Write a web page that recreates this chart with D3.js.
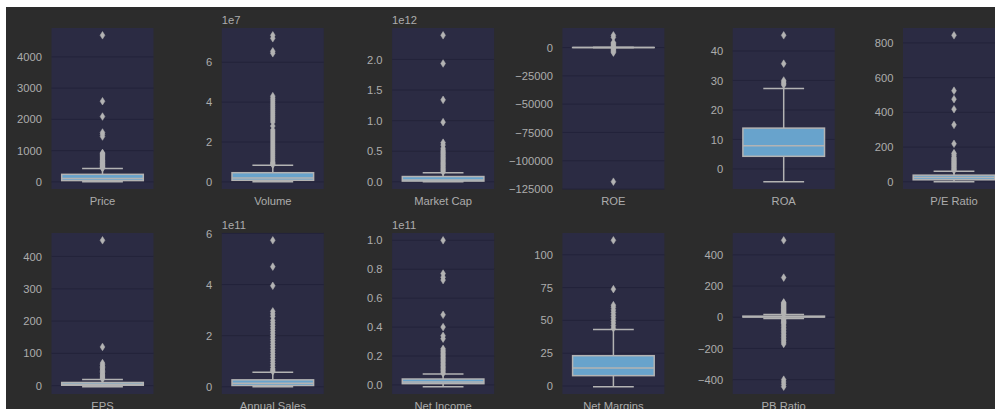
<!DOCTYPE html>
<html><head><meta charset="utf-8">
<script src="https://cdn.jsdelivr.net/npm/d3@7"></script>
<style>html,body{margin:0;padding:0;background:#ffffff;} svg{display:block;}</style>
</head><body>
<svg id="chart" width="995" height="409"></svg>
<script>
// ---------- DATA ----------
const categories = ["Price","Volume","Market Cap","ROE","ROA","P/E Ratio",
                    "EPS","Annual Sales","Net Income","Net Margins","PB Ratio"];
const whiskerLow  = [5,      0.01e7,  0.002e12, -15,  -4.3, 0.5,  -3,   0.003e11, -0.012e11, -0.5, -8];
const q1Values    = [40,     0.08e7,  0.012e12, 5,    4.3,  11.5, 1.5,  0.05e11,  0.009e11,  7.9,  1.5];
const medianValues= [110,    0.2e7,   0.03e12,  12,   7.9,  24,   4.5,  0.14e11,  0.02e11,   13.7, 3];
const q3Values    = [240,    0.46e7,  0.086e12, 20,   13.85,38,   10,   0.27e11,  0.041e11,  23.1, 7];
const whiskerHigh = [424,    0.83e7,  0.15e12,  45,   27.3, 61,   19,   0.57e11,  0.076e11,  43,   17];

const outliersPrice = [435,450,470,490,510,530,555,580,600,625,650,680,700,730,760,790,820,850,880,910,925,1450,1520,1580,2090,2580,4690];
const outliersVolume = [0.86e7,0.9e7,0.95e7,1.0e7,1.1e7,1.2e7,1.3e7,1.4e7,1.5e7,1.6e7,1.7e7,1.8e7,1.9e7,2.0e7,2.1e7,2.2e7,2.3e7,2.4e7,2.5e7,2.6e7,2.8e7,3.0e7,3.1e7,3.2e7,3.3e7,3.4e7,3.5e7,3.6e7,3.7e7,3.8e7,3.9e7,4.0e7,4.1e7,4.2e7,4.3e7,6.45e7,6.55e7,7.2e7,7.35e7];
const outliersMarketCap = [0.16e12,0.18e12,0.2e12,0.22e12,0.24e12,0.26e12,0.28e12,0.3e12,0.32e12,0.34e12,0.36e12,0.38e12,0.4e12,0.42e12,0.44e12,0.46e12,0.48e12,0.5e12,0.52e12,0.55e12,0.6e12,0.64e12,0.975e12,1.34e12,1.935e12,2.395e12];
const outliersROE = [-118500,-4500,-3500,-2500,-1500,-800,800,1500,2500,3500,4500,9000,10800];
const outliersROA = [28.5,29,29.5,30,35.7,45.3];
const outliersPE = [65,70,75,80,85,90,95,100,105,110,115,120,125,130,135,140,150,160,165,219,328,418,476,525,844];
const outliersEPS = [21,24,27,30,33,36,40,44,48,52,56,60,65,70,120,450];
const outliersSales = [0.6e11,0.65e11,0.7e11,0.8e11,0.9e11,1.0e11,1.1e11,1.2e11,1.3e11,1.4e11,1.5e11,1.6e11,1.7e11,1.8e11,1.9e11,2.0e11,2.1e11,2.2e11,2.3e11,2.4e11,2.5e11,2.6e11,2.75e11,2.85e11,2.95e11,3.95e11,4.7e11,5.73e11];
const outliersIncome = [0.08e11,0.09e11,0.1e11,0.11e11,0.12e11,0.13e11,0.14e11,0.15e11,0.16e11,0.17e11,0.18e11,0.19e11,0.2e11,0.21e11,0.22e11,0.23e11,0.24e11,0.25e11,0.32e11,0.34e11,0.40e11,0.485e11,0.725e11,0.745e11,0.77e11,1.0e11];
const outliersMargins = [44,46,48,50,52,54,56,58,60,61.6,73.8,111];
const outliersPB = [20,25,30,35,40,45,50,55,60,65,70,75,80,85,90,95,254,493,-12,-18,-25,-30,-35,-40,-50,-60,-70,-80,-90,-100,-110,-120,-130,-140,-150,-160,-171,-400,-415,-430,-445];
const outliers = [outliersPrice,outliersVolume,outliersMarketCap,outliersROE,outliersROA,outliersPE,
                  outliersEPS,outliersSales,outliersIncome,outliersMargins,outliersPB];

const offsetLabels = ["", "1e7", "1e12", "", "", "", "", "1e11", "1e11", "", ""];
const tickValues = [
  [0,1000,2000,3000,4000],
  [0,2e7,4e7,6e7],
  [0,0.5e12,1e12,1.5e12,2e12],
  [0,-25000,-50000,-75000,-100000,-125000],
  [0,10,20,30,40],
  [0,200,400,600,800],
  [0,100,200,300,400],
  [0,2e11,4e11,6e11],
  [0,0.2e11,0.4e11,0.6e11,0.8e11,1.0e11],
  [0,25,50,75,100],
  [-400,-200,0,200,400]
];
const tickLabels = [
  ["0","1000","2000","3000","4000"],
  ["0","2","4","6"],
  ["0.0","0.5","1.0","1.5","2.0"],
  ["0","\u221225000","\u221250000","\u221275000","\u2212100000","\u2212125000"],
  ["0","10","20","30","40"],
  ["0","200","400","600","800"],
  ["0","100","200","300","400"],
  ["0","2","4","6"],
  ["0.0","0.2","0.4","0.6","0.8","1.0"],
  ["0","25","50","75","100"],
  ["\u2212400","\u2212200","0","200","400"]
];

// ---------- LAYOUT / STYLE ----------
const W = 995, H = 409;
const figX = 6, figY = 7;
const col0 = 51.5, colStep = 170.3, panelW = 102;
const row0 = 28, rowStep = 205, panelH = 161;
const figBg = "#2c2c2c", panelBg = "#2b2b43", gridColor = "#23233a";
const boxFill = "#68a3cc", lineColor = "#b3b3b3", textColor = "#acacac";
const font = "'Liberation Sans', Arial, sans-serif";
const fontSize = "11.2px";

const svg = d3.select("#chart");
svg.append("rect").attr("x", figX).attr("y", figY).attr("width", W - figX).attr("height", H - figY).attr("fill", figBg);

categories.forEach((cat, i) => {
  const r = Math.floor(i / 6), c = i % 6;
  const left = col0 + c * colStep, top = row0 + r * rowStep;
  const g = svg.append("g");

  const all = outliers[i].concat([whiskerLow[i], whiskerHigh[i]]);
  const mn = d3.min(all), mx = d3.max(all), pad = (mx - mn) * 0.05;
  const y = d3.scaleLinear().domain([mn - pad, mx + pad]).range([top + panelH, top]);
  const x = d3.scaleLinear().domain([-0.5, 0.5]).range([left, left + panelW]);

  g.append("rect").attr("x", left).attr("y", top).attr("width", panelW).attr("height", panelH).attr("fill", panelBg);

  // grid + tick labels
  const yAxis = d3.axisLeft(y).tickValues(tickValues[i]).tickSize(0).tickPadding(9.5)
      .tickFormat((d, k) => tickLabels[i][k]);
  const ax = g.append("g").attr("transform", `translate(${left},0)`).call(yAxis);
  ax.select(".domain").remove();
  ax.selectAll("text").attr("fill", textColor).style("font-family", font).style("font-size", fontSize);
  g.selectAll(".grid").data(tickValues[i].filter(v => y(v) >= top - 0.5 && y(v) <= top + panelH + 0.5))
    .join("line").attr("class", "grid")
    .attr("x1", left).attr("x2", left + panelW)
    .attr("y1", d => y(d)).attr("y2", d => y(d))
    .attr("stroke", gridColor).attr("stroke-width", 1);

  // whiskers
  g.append("line").attr("x1", x(0)).attr("x2", x(0)).attr("y1", y(q1Values[i])).attr("y2", y(whiskerLow[i]))
    .attr("stroke", lineColor).attr("stroke-width", 1.5);
  g.append("line").attr("x1", x(0)).attr("x2", x(0)).attr("y1", y(q3Values[i])).attr("y2", y(whiskerHigh[i]))
    .attr("stroke", lineColor).attr("stroke-width", 1.5);
  // box
  g.append("rect").attr("x", x(-0.4)).attr("width", x(0.4) - x(-0.4))
    .attr("y", y(q3Values[i])).attr("height", Math.max(0, y(q1Values[i]) - y(q3Values[i])))
    .attr("fill", boxFill).attr("stroke", lineColor).attr("stroke-width", 1.5);
  // median
  g.append("line").attr("x1", x(-0.4)).attr("x2", x(0.4)).attr("y1", y(medianValues[i])).attr("y2", y(medianValues[i]))
    .attr("stroke", lineColor).attr("stroke-width", 1.5);
  // caps
  [whiskerLow[i], whiskerHigh[i]].forEach(v => {
    g.append("line").attr("x1", x(-0.2)).attr("x2", x(0.2)).attr("y1", y(v)).attr("y2", y(v))
      .attr("stroke", lineColor).attr("stroke-width", 1.5);
  });
  // outliers (thin diamonds)
  g.selectAll(".flier").data(outliers[i]).join("path").attr("class", "flier")
    .attr("d", d => { const cx = x(0), cy = y(d); return `M${cx},${cy-3.8}L${cx+2.4},${cy}L${cx},${cy+3.8}L${cx-2.4},${cy}Z`; })
    .attr("fill", lineColor).attr("stroke", lineColor).attr("stroke-width", 0.5);

  // category label
  g.append("text").attr("x", x(0)).attr("y", top + panelH + 16)
    .attr("text-anchor", "middle").attr("fill", textColor)
    .style("font-family", font).style("font-size", fontSize).text(cat);
  // offset text
  if (offsetLabels[i]) {
    g.append("text").attr("x", left).attr("y", top - 4.5).attr("fill", textColor)
      .style("font-family", font).style("font-size", fontSize).text(offsetLabels[i]);
  }
});
</script>
</body></html>
